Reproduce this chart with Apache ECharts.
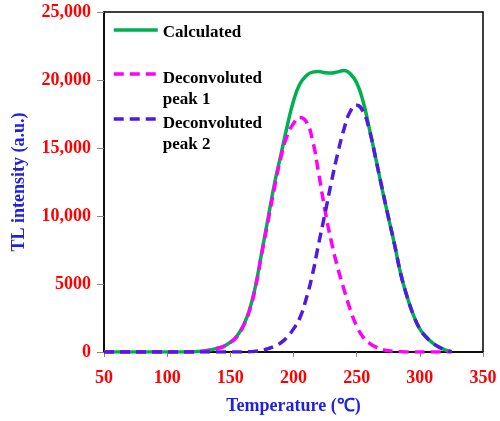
<!DOCTYPE html>
<html>
<head>
<meta charset="utf-8">
<script src="https://cdn.jsdelivr.net/npm/echarts@6/dist/echarts.min.js"></script>
<style>
html,body{margin:0;padding:0;background:#fff;}
#chart{width:500px;height:421px;}
</style>
</head>
<body>
<div id="chart"></div>
<script>
var temperatures = [50,55,60,65,70,75,80,85,90,95,100,105,110,115,120,125,130,135,140,145,150,155,160,165,170,175,180,185,190,195,200,205,210,215,220,225,230,235,240,245,250,255,260,265,270,275,280,285,290,295,300,305,310,315,320,325];
var calculated = [0,0,0,0,0,0,0,0,0,0,0,0,0,0,10,40,80,170,290,430,720,1150,1900,3050,4900,7400,9900,12400,14500,16600,18450,19700,20300,20580,20620,20540,20510,20600,20700,20450,19800,18450,16450,14300,12050,9950,7900,5700,4050,2700,1700,1100,680,370,150,30];
var peak1 = [0,0,0,0,0,0,0,0,0,0,0,0,0,0,10,30,70,150,270,420,700,1100,1850,3000,4800,7300,9700,12100,14300,15900,16800,17250,16950,15600,13100,10400,8100,6200,4600,3100,1900,1100,650,380,200,100,50,20,5,0,0,0,0,0,0,0];
var peak2 = [0,0,0,0,0,0,0,0,0,0,0,0,0,0,0,0,0,0,0,0,0,0,0,20,50,120,250,420,680,1100,1700,2500,3900,5700,8000,10200,12500,14600,16400,17700,18150,17700,16350,14250,12100,9950,7900,5700,4050,2700,1700,1100,680,370,150,30];
var seriesNames = ['Calculated', 'Deconvoluted\npeak 1', 'Deconvoluted\npeak 2'];
var xTicks = [50,100,150,200,250,300,350];
var yTicks = [0,5000,10000,15000,20000,25000];

function pairs(vals){ return temperatures.map(function(t,i){ return [t, vals[i]]; }); }

var serif = '"Liberation Serif", "Times New Roman", serif';
var fontBase = {fontFamily: serif, fontWeight: 'bold', fontSize: 17, color: '#000'};
var legendIconStyle = {opacity: 0, color: 'rgba(0,0,0,0)', borderWidth: 0};
function legendFormatter(name){
  var parts = name.split('\n');
  var out = '{a|' + parts[0] + '}';
  for (var i = 1; i < parts.length; i++) out += '\n{b|' + parts[i] + '}';
  return out;
}
function legendFor(idx, top, padTop){
  return {
    data: [seriesNames[idx]], left: 112, top: top, padding: 0, itemWidth: 44, itemHeight: 14,
    itemStyle: legendIconStyle, lineStyle: {width: 3.5},
    formatter: legendFormatter,
    textStyle: Object.assign({}, fontBase, {
      rich: {
        a: Object.assign({}, fontBase, {lineHeight: 21 + padTop, padding: [padTop, 0, 0, 0]}),
        b: Object.assign({}, fontBase, {lineHeight: 21})
      }
    })
  };
}

var chart = echarts.init(document.getElementById('chart'), null, {renderer: 'canvas'});
chart.setOption({
  animation: false,
  backgroundColor: '#fff',
  grid: {left: 104, right: 17, top: 12, bottom: 69, show: true, borderColor: '#000', borderWidth: 1.5, containLabel: false},
  legend: [
    legendFor(0, 19, 5),
    legendFor(1, 40, 30),
    legendFor(2, 85, 30)
  ],
  xAxis: {
    type: 'value', min: xTicks[0], max: xTicks[xTicks.length-1], interval: 50,
    name: 'Temperature (℃)', nameLocation: 'middle', nameGap: 45,
    nameTextStyle: {fontFamily: serif, fontWeight: 'bold', fontSize: 18, color: '#1F1FE6'},
    axisLine: {show: true, onZero: false, lineStyle: {color: '#000', width: 1.5}},
    axisTick: {show: true, inside: false, length: 5, lineStyle: {color: '#888', width: 1}},
    axisLabel: {margin: 17, fontFamily: serif, fontWeight: 'bold', fontSize: 18, color: '#FF0000'},
    splitLine: {show: false}
  },
  yAxis: {
    type: 'value', min: yTicks[0], max: yTicks[yTicks.length-1], interval: 5000,
    name: 'TL intensity (a.u.)', nameLocation: 'middle', nameGap: 76,
    nameTextStyle: {fontFamily: serif, fontWeight: 'bold', fontSize: 18, color: '#1F1FE6'},
    axisLine: {show: true, lineStyle: {color: '#000', width: 1.5}},
    axisTick: {show: true, inside: false, length: 7, lineStyle: {color: '#888', width: 1}},
    axisLabel: {margin: 13, fontFamily: serif, fontWeight: 'bold', fontSize: 18, color: '#FF0000',
      formatter: function(v){ return v >= 10000 ? String(v).replace(/\B(?=(\d{3})+(?!\d))/g, ',') : String(v); }},
    splitLine: {show: false}
  },
  series: [
    {name: seriesNames[0], type: 'line', data: pairs(calculated), symbol: 'none', smooth: true,
     lineStyle: {color: '#00B050', width: 3.5, type: 'solid'}, itemStyle: {color: '#00B050'}, z: 2},
    {name: seriesNames[1], type: 'line', data: pairs(peak1), symbol: 'none', smooth: true,
     lineStyle: {color: '#FF00FF', width: 3.5, type: [10,6]}, itemStyle: {color: '#FF00FF'}, z: 3},
    {name: seriesNames[2], type: 'line', data: pairs(peak2), symbol: 'none', smooth: true,
     lineStyle: {color: '#4F1BE0', width: 3.5, type: [10,6]}, itemStyle: {color: '#4F1BE0'}, z: 4}
  ]
});
</script>
</body>
</html>
